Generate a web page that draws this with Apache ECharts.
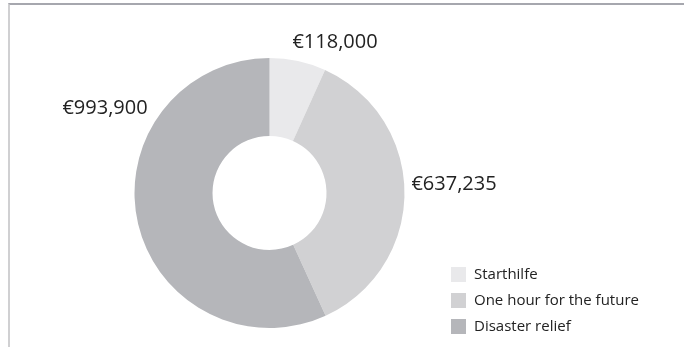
<!DOCTYPE html>
<html>
<head>
<meta charset="utf-8">
<script src="https://cdn.jsdelivr.net/npm/echarts@6/dist/echarts.min.js"></script>
<style>
  html, body { margin: 0; padding: 0; background: #fff; }
  #frame { position: absolute; left: 8px; top: 3px; width: 676px; height: 344px;
           border-top: 2px solid #a6a7ae; border-left: 2px solid #d0d0d2; }
  #chart { position: absolute; left: 0; top: 0; width: 684px; height: 347px; }
</style>
</head>
<body>
<div id="frame"></div>
<div id="chart"></div>
<script>
// Donations by programme
const categories = ['Starthilfe', 'One hour for the future', 'Disaster relief'];
const amounts = [118000, 637235, 993900];
const valueLabels = ['€118,000', '€637,235', '€993,900'];
const sliceColors = ['#e9e9eb', '#d1d1d3', '#b5b6ba'];

// Where each value label sits (text centre)
const labelSpots = [[335, 42], [454, 184], [105, 108]];

const chart = echarts.init(document.getElementById('chart'), null, { renderer: 'canvas' });

chart.setOption({
  animation: false,
  color: sliceColors,
  legend: {
    orient: 'vertical',
    left: 451,
    top: 267,
    padding: 0,
    itemWidth: 15,
    itemHeight: 15,
    itemGap: 11,
    icon: 'rect',
    textStyle: { fontFamily: 'Open Sans', fontSize: 15, color: '#222', padding: [0, 0, 0, 3] },
    data: categories
  },
  series: [{
    type: 'pie',
    center: [269.5, 193],
    radius: [57, 135],
    startAngle: 90,
    clockwise: true,
    avoidLabelOverlap: false,
    itemStyle: { borderWidth: 0 },
    label: {
      show: true,
      position: 'outside',
      fontFamily: 'Open Sans',
      fontSize: 20,
      color: '#222',
      formatter: p => valueLabels[p.dataIndex]
    },
    labelLine: { show: false },
    labelLayout: p => ({
      x: labelSpots[p.dataIndex][0],
      y: labelSpots[p.dataIndex][1],
      align: 'center',
      verticalAlign: 'middle'
    }),
    emphasis: { disabled: true },
    data: categories.map((name, i) => ({ name, value: amounts[i] }))
  }]
});
</script>
</body>
</html>
